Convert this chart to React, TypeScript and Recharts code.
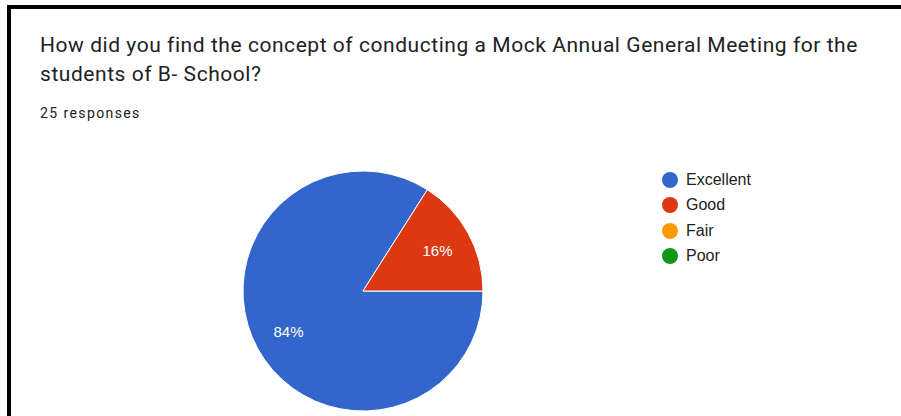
import { PieChart, Pie, Cell, Legend } from "recharts";

const categories = ["Excellent", "Good", "Fair", "Poor"];
const counts = [21, 4, 0, 0];
const colors = ["#3366cc", "#dc3912", "#ff9900", "#109618"];

const title = "How did you find the concept of conducting a Mock Annual General Meeting for the students of B- School?";
const totalResponses = 25;

const RAD = Math.PI / 180;

export default function App() {
    const total = counts.reduce((a, b) => a + b, 0);
    const data = categories
        .map((name, i) => ({ name, value: counts[i], color: colors[i] }))
        .filter((d) => d.value > 0);
    // Google Forms draws "Excellent" first, ending at 3 o'clock
    const start = (360 * (total - counts[0])) / total;

    const renderLabel = (p: any) => {
        const r = 85;
        const x = p.cx + r * Math.cos(-p.midAngle * RAD);
        const y = p.cy + r * Math.sin(-p.midAngle * RAD);
        return (
            <text x={x} y={y} fill="#ffffff" fontSize={15} fontFamily="Arial, 'Liberation Sans', sans-serif" textAnchor="middle" dominantBaseline="central">
                {`${Math.round((p.value / total) * 100)}%`}
            </text>
        );
    };

    return (
        <div style={{ position: "absolute", left: 0, top: 0, width: 901, height: 416, background: "#fff", overflow: "hidden" }}>
            <div style={{ position: "absolute", left: 7, top: 5, width: 894, height: 411, borderLeft: "4px solid #000", borderTop: "4px solid #000" }} />
            <div
                style={{
                    position: "absolute",
                    left: 40,
                    top: 31,
                    width: 845,
                    fontFamily: "Roboto, 'Open Sans', sans-serif",
                    fontSize: 21,
                    letterSpacing: 0.55,
                    lineHeight: "29px",
                    color: "#202124",
                }}
            >
                {title}
            </div>
            <div style={{ position: "absolute", left: 40, top: 105, fontFamily: "Roboto, sans-serif", fontSize: 14, letterSpacing: 1.4, color: "#202124" }}>
                {totalResponses} responses
            </div>
            <div style={{ position: "absolute", left: 0, top: 0 }}>
                <PieChart width={901} height={416} margin={{ top: 0, right: 0, bottom: 0, left: 0 }}>
                    <Pie
                        data={data}
                        dataKey="value"
                        nameKey="name"
                        cx={363}
                        cy={291}
                        outerRadius={120}
                        startAngle={start}
                        endAngle={start + 360}
                        stroke="#ffffff"
                        strokeWidth={1}
                        label={renderLabel}
                        labelLine={false}
                        isAnimationActive={false}
                    >
                        {data.map((d) => (
                            <Cell key={d.name} fill={d.color} />
                        ))}
                    </Pie>
                    <Legend
                        layout="vertical"
                        wrapperStyle={{ position: "absolute", left: 662, top: 167, width: 120 }}
                        content={() => (
                            <div>
                                {categories.map((c, i) => (
                                    <div key={c} style={{ display: "flex", alignItems: "center", height: 25.5 }}>
                                        <span style={{ width: 16, height: 16, borderRadius: "50%", background: colors[i], display: "inline-block", marginRight: 8 }} />
                                        <span style={{ fontFamily: "Arial, 'Liberation Sans', sans-serif", fontSize: 16, color: "#222" }}>{c}</span>
                                    </div>
                                ))}
                            </div>
                        )}
                    />
                </PieChart>
            </div>
        </div>
    );
}
